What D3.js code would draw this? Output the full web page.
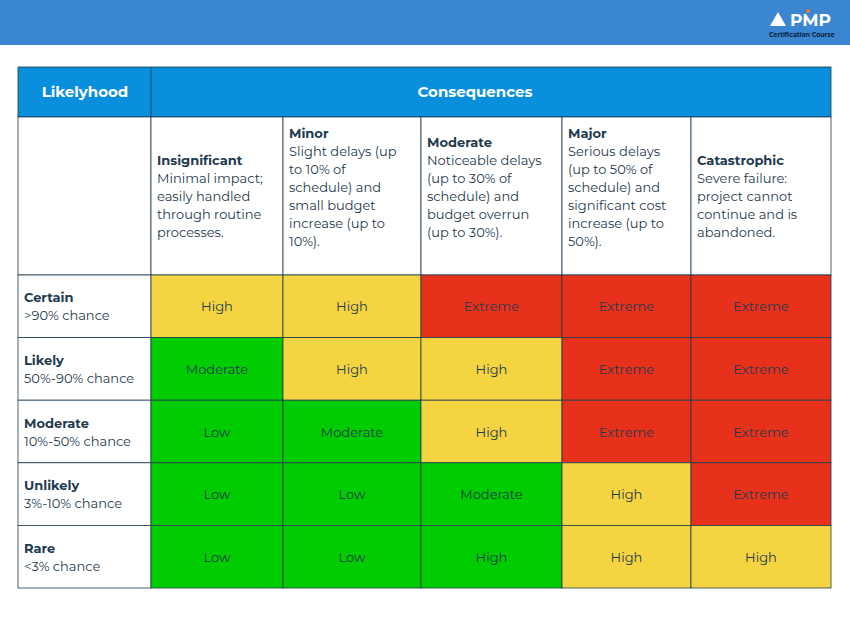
<!DOCTYPE html>
<html><head><meta charset="utf-8">
<script src="https://cdn.jsdelivr.net/npm/d3@7"></script>
<style>body{margin:0;background:#fff}svg{display:block;font-family:'Montserrat','Lato','Open Sans',sans-serif}</style>
</head><body><svg id="c" width="850" height="623"></svg>
<script>
const consequences = ["Insignificant","Minor","Moderate","Major","Catastrophic"];
const consequenceDesc = [
 ["Minimal impact;","easily handled","through routine","processes."],
 ["Slight delays (up","to 10% of","schedule) and","small budget","increase (up to","10%)."],
 ["Noticeable delays","(up to 30% of","schedule) and","budget overrun","(up to 30%)."],
 ["Serious delays","(up to 50% of","schedule) and","significant cost","increase (up to","50%)."],
 ["Severe failure:","project cannot","continue and is","abandoned."]
];
const likelihoods = ["Certain","Likely","Moderate","Unlikely","Rare"];
const likelihoodDesc = [">90% chance","50%-90% chance","10%-50% chance","3%-10% chance","<3% chance"];
const ratings = [
 ["High","High","Extreme","Extreme","Extreme"],
 ["Moderate","High","High","Extreme","Extreme"],
 ["Low","Moderate","High","Extreme","Extreme"],
 ["Low","Low","Moderate","High","Extreme"],
 ["Low","Low","High","High","High"]
];
// cell colour bands as shown in the picture (g = green, y = yellow, r = red)
const cellBands = [
 ["y","y","r","r","r"],
 ["g","y","y","r","r"],
 ["g","g","y","r","r"],
 ["g","g","g","y","r"],
 ["g","g","g","y","y"]
];
const colorScale = d3.scaleOrdinal().domain(["g","y","r"]).range(["#00cc00","#f5d442","#e8311a"]);
const colEdges = [18,151,283,421,562,691,831];
const rowScale = d3.scaleBand().domain(likelihoods).range([275,588]);
const svg = d3.select("#c");
const navy = "#1e3a4f";
svg.append("rect").attr("width",850).attr("height",45).attr("fill","#3a86d0");
const lg = svg.append("g");
lg.append("path").attr("d","M770 26 L778 12 L786 26 Z").attr("fill","#fff");
lg.append("text").attr("x",790).attr("y",26).attr("fill","#fff").attr("font-weight",700).attr("font-size",17).text("PMP");
lg.append("circle").attr("cx",808).attr("cy",11).attr("r",2).attr("fill","#f07a2a");
lg.append("text").attr("x",769).attr("y",37).attr("fill","#0d2240").attr("font-weight",700).attr("font-size",6.3).text("Certification Course");
svg.append("rect").attr("x",18).attr("y",67).attr("width",813).attr("height",50).attr("fill","#0a8fdc").attr("stroke",navy).attr("stroke-width",0.8);
svg.append("line").attr("x1",151).attr("x2",151).attr("y1",67).attr("y2",117).attr("stroke",navy).attr("stroke-width",0.8);
svg.append("text").attr("x",85).attr("y",97).attr("text-anchor","middle").attr("fill","#fff").attr("font-weight",700).attr("font-size",15).text("Likelyhood");
svg.append("text").attr("x",475).attr("y",97).attr("text-anchor","middle").attr("fill","#fff").attr("font-weight",700).attr("font-size",15).text("Consequences");
svg.append("rect").attr("x",18).attr("y",117).attr("width",133).attr("height",158).attr("fill","#fff").attr("stroke",navy).attr("stroke-width",0.8);
const startY = {5:165, 6:147, 7:138};
consequences.forEach((c,i)=>{
  const x0=colEdges[i+1], x1=colEdges[i+2];
  svg.append("rect").attr("x",x0).attr("y",117).attr("width",x1-x0).attr("height",158).attr("fill","#fff").attr("stroke",navy).attr("stroke-width",0.8);
  const lines=[c].concat(consequenceDesc[i]);
  const lh=18, y0=startY[lines.length];
  const t=svg.append("text").attr("fill",navy).attr("font-size",13);
  lines.forEach((l,j)=>t.append("tspan").attr("x",x0+6).attr("y",y0+j*lh).attr("font-weight",j==0?700:400).text(l));
});
likelihoods.forEach((l,r)=>{
  const y=rowScale(l), h=rowScale.bandwidth();
  svg.append("rect").attr("x",18).attr("y",y).attr("width",133).attr("height",h).attr("fill","#fff").attr("stroke",navy).attr("stroke-width",0.8);
  const t=svg.append("text").attr("fill",navy).attr("font-size",13);
  t.append("tspan").attr("x",24).attr("y",y+h/2-4).attr("font-weight",700).text(l);
  t.append("tspan").attr("x",24).attr("y",y+h/2+14).text(likelihoodDesc[r]);
  ratings[r].forEach((v,i)=>{
    const x0=colEdges[i+1], x1=colEdges[i+2];
    svg.append("rect").attr("x",x0).attr("y",y).attr("width",x1-x0).attr("height",h).attr("fill",colorScale(cellBands[r][i])).attr("stroke",navy).attr("stroke-width",0.8);
    svg.append("text").attr("x",(x0+x1)/2).attr("y",y+h/2+5).attr("text-anchor","middle").attr("fill",navy).attr("font-size",13).text(v);
  });
});
</script></body></html>
